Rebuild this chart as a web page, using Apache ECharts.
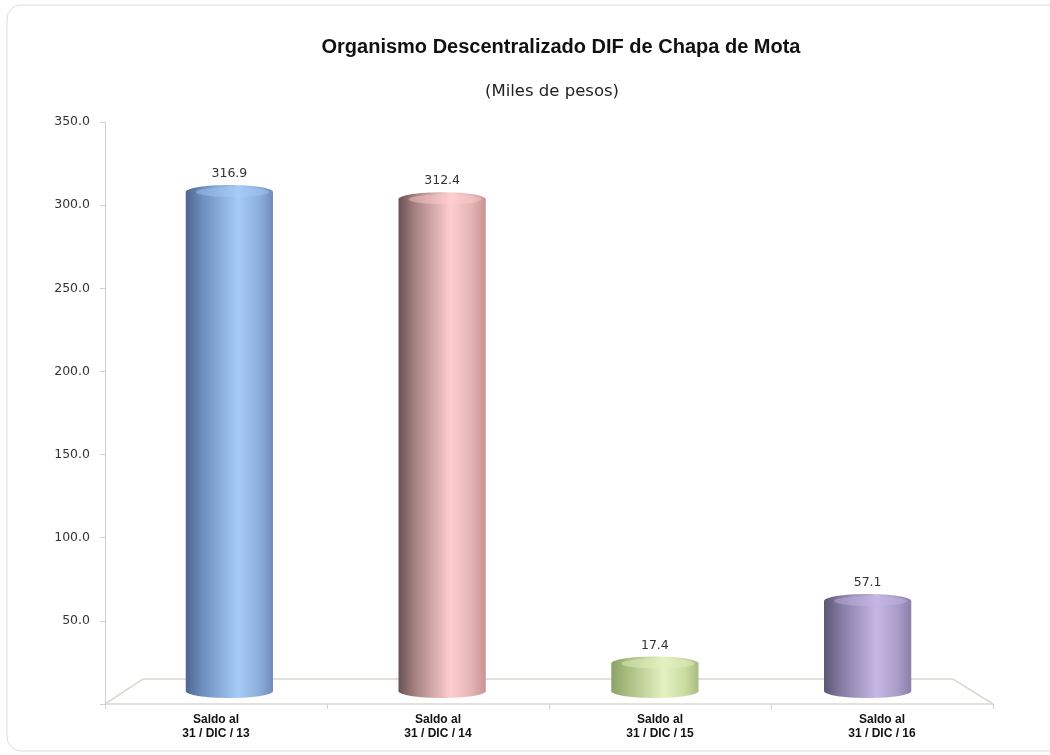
<!DOCTYPE html>
<html>
<head>
<meta charset="utf-8">
<script src="https://cdn.jsdelivr.net/npm/echarts@6/dist/echarts.min.js"></script>
<style>
html,body{margin:0;padding:0;background:#fff;}
#chart{width:1050px;height:755px;}
</style>
</head>
<body>
<div id="chart"></div>
<script>
// ---- data ----
const categories = ['Saldo al\n31 / DIC / 13', 'Saldo al\n31 / DIC / 14', 'Saldo al\n31 / DIC / 15', 'Saldo al\n31 / DIC / 16'];
const values = [316.9, 312.4, 17.4, 57.1];
const yTicks = [0, 50, 100, 150, 200, 250, 300, 350];
const titleText = 'Organismo Descentralizado DIF de Chapa de Mota';
const subtitleText = '(Miles de pesos)';

// ---- styles ----
const palettes = [
  ['#4d6690', '#6f8fc0', '#a6cbf7', '#8cadd9', '#6f8cbb'],
  ['#6a5253', '#a98384', '#ffcfcf', '#e2b1b2', '#c99293'],
  ['#8ea268', '#aabf82', '#e4f1c0', '#c9dca0', '#a9bd80'],
  ['#5c5775', '#857ca3', '#c6b6e4', '#a99cc8', '#8c80aa']
];
function bodyGrad(p){
  return new echarts.graphic.LinearGradient(0,0,1,0,[
    {offset:0, color:p[0]},{offset:0.2, color:p[1]},{offset:0.6, color:p[2]},
    {offset:0.85, color:p[3]},{offset:1, color:p[4]}
  ]);
}

const chart = echarts.init(document.getElementById('chart'));
const font = '"Liberation Sans", Arial, sans-serif';
const wideFont = '"DejaVu Sans", "Liberation Sans", sans-serif';

chart.setOption({
  backgroundColor:'#fff',
  animation:false,
  title:[
    {text:titleText, left:556, top:32, textAlign:'center',
     textStyle:{fontFamily:font, fontSize:20, fontWeight:'bold', color:'#111'}},
    {text:subtitleText, left:547, top:78, textAlign:'center',
     textStyle:{fontFamily:wideFont, fontSize:16.5, fontWeight:'normal', color:'#222'}}
  ],
  graphic:[
    {type:'rect', shape:{x:7, y:5, width:1070, height:746, r:14}, style:{fill:'none', stroke:'#dcdcdc', lineWidth:1}, z:-10},
    {type:'polyline', shape:{points:[[105,704],[143,679],[953,679],[993,704]]}, style:{fill:'none', stroke:'#d9d9d0', lineWidth:1.5}, z:-5}
  ],
  grid:[
    {left:105, right:57, top:122, bottom:51},
    {left:123, right:76, top:140, bottom:64}
  ],
  xAxis:[
    {type:'category', gridIndex:0, data:categories,
     axisLine:{show:true, lineStyle:{color:'#d9d9d0', width:1.5}},
     axisTick:{show:true, length:5, alignWithLabel:false, lineStyle:{color:'#d0d0d0'}},
     axisLabel:{fontFamily:font, fontSize:12, fontWeight:'bold', color:'#111', lineHeight:14, margin:9}},
    {type:'category', gridIndex:1, data:categories, show:false}
  ],
  yAxis:[
    {type:'value', gridIndex:0, min:0, max:350, interval:50,
     axisLine:{show:true, lineStyle:{color:'#d0d0d0'}},
     axisTick:{show:true, length:5, lineStyle:{color:'#d0d0d0'}},
     splitLine:{show:false},
     axisLabel:{fontFamily:wideFont, fontSize:12.5, color:'#333', margin:15,
       formatter:function(v){ return v === 0 ? '' : v.toFixed(1); }}},
    {type:'value', gridIndex:1, min:0, max:350, show:false, splitLine:{show:false}}
  ],
  series:[{
    type:'custom',
    xAxisIndex:1, yAxisIndex:1,
    data: values.map(function(v,i){ return [i, v]; }),
    renderItem:function(params, api){
      const idx = api.value(0);
      const v = api.value(1);
      const top = api.coord([idx, v]);
      const base = api.coord([idx, 0]);
      const w = api.size([1, 0])[0] * 0.41;
      const rx = w/2, ry = 7;
      const p = palettes[idx % palettes.length];
      const cx = top[0];
      return {
        type:'group',
        children:[
          {type:'ellipse', shape:{cx:cx, cy:base[1], rx:rx, ry:ry}, style:{fill:bodyGrad(p)}},
          {type:'rect', shape:{x:cx-rx, y:top[1], width:w, height:Math.max(0, base[1]-top[1])}, style:{fill:bodyGrad(p)}},
          {type:'ellipse', shape:{cx:cx, cy:top[1], rx:rx, ry:ry}, style:{fill:bodyGrad(p)}},
          {type:'ellipse', shape:{cx:cx+3, cy:top[1], rx:rx-7, ry:ry-2}, style:{fill:p[2], opacity:0.45}},
          {type:'text', x:cx, y:top[1]-18,
           style:{text:v.toFixed(1), fontFamily:wideFont, fontSize:12.5, fill:'#333', align:'center', verticalAlign:'middle'}}
        ]
      };
    }
  }]
});
</script>
</body>
</html>
